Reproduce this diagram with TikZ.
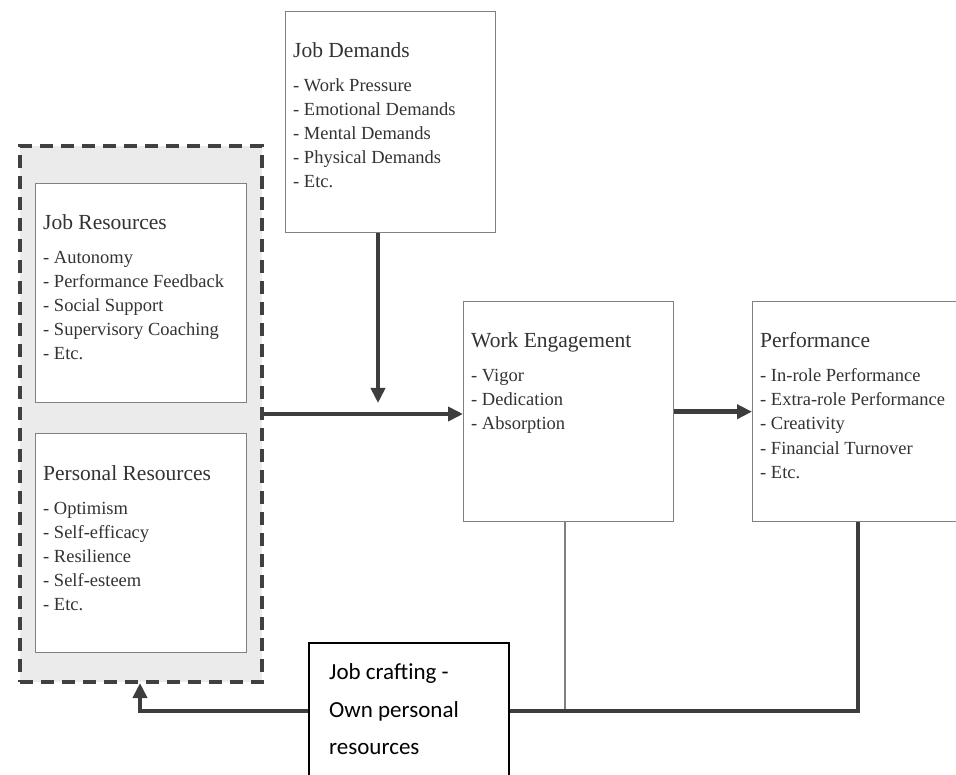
\documentclass[tikz,border=0pt]{standalone}
\usepackage{fontspec}
\setmainfont{Liberation Serif}
\newfontfamily\boxfont{Liberation Serif}
\newfontfamily\jcfont{Carlito}
\usetikzlibrary{arrows.meta,calc}

\definecolor{boxgray}{HTML}{808080}
\definecolor{dashgray}{HTML}{404040}
\definecolor{bggray}{HTML}{EBEBEB}
\definecolor{txtgray}{HTML}{333333}
\definecolor{arrgray}{HTML}{3D3D3D}

\tikzset{
  box/.style={draw=boxgray, line width=1.4pt, fill=white, anchor=north west,
    minimum width=210pt, minimum height=220pt, inner sep=0pt},
  head/.style={anchor=base west, inner sep=0pt, text=txtgray,
    font=\boxfont\fontsize{21.5}{24}\selectfont},
  item/.style={anchor=base west, inner sep=0pt, text=txtgray,
    font=\boxfont\fontsize{18.5}{24}\selectfont},
  flow/.style={draw=arrgray, line width=4.6pt,
    -{Triangle[length=15pt,width=14pt]}},
  feedback/.style={draw=arrgray, line width=4.6pt},
  thinlink/.style={draw=boxgray, line width=1.3pt},
  jctext/.style={anchor=base west, inner sep=0pt, text=black,
    font=\jcfont\fontsize{23}{30}\selectfont},
}

% heading and bullet list inside a box
\newcommand\fillbox[3]{%
  \node[head] (#1-h) at ($(#1.north west)+(8,47)$) {#2};
  \foreach \t [count=\i] in {#3}
    \node[item] (#1-\i) at ($(#1.north west)+(8,57+24*\i)$) {\t};
}

\begin{document}
\begin{tikzpicture}[x=1pt, y=-1pt]
\clip (0,0) rectangle (956,775);

% resources group
\node[draw=dashgray, line width=4pt, dash pattern=on 13pt off 8pt, fill=bggray,
  anchor=north west, minimum width=242pt, minimum height=536pt, inner sep=0pt]
  (res) at (18,144) {};

\node[box, minimum width=211pt, minimum height=219pt] (jr) at (35,183) {};
\fillbox{jr}{Job Resources}{- Autonomy, - Performance Feedback, - Social Support, - Supervisory Coaching, - Etc.}

\node[box, minimum width=211pt, minimum height=219pt] (pr) at (35,433) {};
\fillbox{pr}{Personal Resources}{- Optimism, - Self-efficacy, - Resilience, - Self-esteem, - Etc.}

% demands
\node[box, minimum height=221pt] (jd) at (285,11) {};
\fillbox{jd}{Job Demands}{- Work Pressure, - Emotional Demands, - Mental Demands, - Physical Demands, - Etc.}

% engagement and outcome
\node[box] (we) at (463,301) {};
\fillbox{we}{Work Engagement}{- Vigor, - Dedication, - Absorption}

\node[box] (perf) at (752,301) {};
\fillbox{perf}{Performance}{- In-role Performance, - Extra-role Performance, - Creativity, - Financial Turnover, - Etc.}

% main flow
\coordinate (jdhit) at (378,403);
\draw[flow] (jdhit |- jd.south) -- (jdhit);
\draw[flow] (res.east) -- (res.east -| we.west);
\draw[flow] (we.east) -- (perf.west);

% feedback loop
\coordinate (loopR) at (858,711);
\coordinate (loopL) at (140,711);
\coordinate (weDrop) at (565,711);
\coordinate (resIn) at (140,683);

\node[draw=black, line width=1.6pt, fill=white, anchor=north west,
  minimum width=200pt, minimum height=160pt, inner sep=0pt] (jc) at (308,642) {};

\draw[thinlink] (weDrop |- we.south) -- (weDrop);
\draw[feedback] (loopR |- perf.south) -- (loopR) -- (jc.east |- loopR);
\draw[flow] (jc.west |- loopL) -- (loopL) -- (resIn);

\node[jctext] (jc-1) at ($(jc.north west)+(21,37)$) {Job crafting -};
\node[jctext] (jc-2) at ($(jc.north west)+(21,75)$) {Own personal};
\node[jctext] (jc-3) at ($(jc.north west)+(21,112)$) {resources};
\end{tikzpicture}
\end{document}
